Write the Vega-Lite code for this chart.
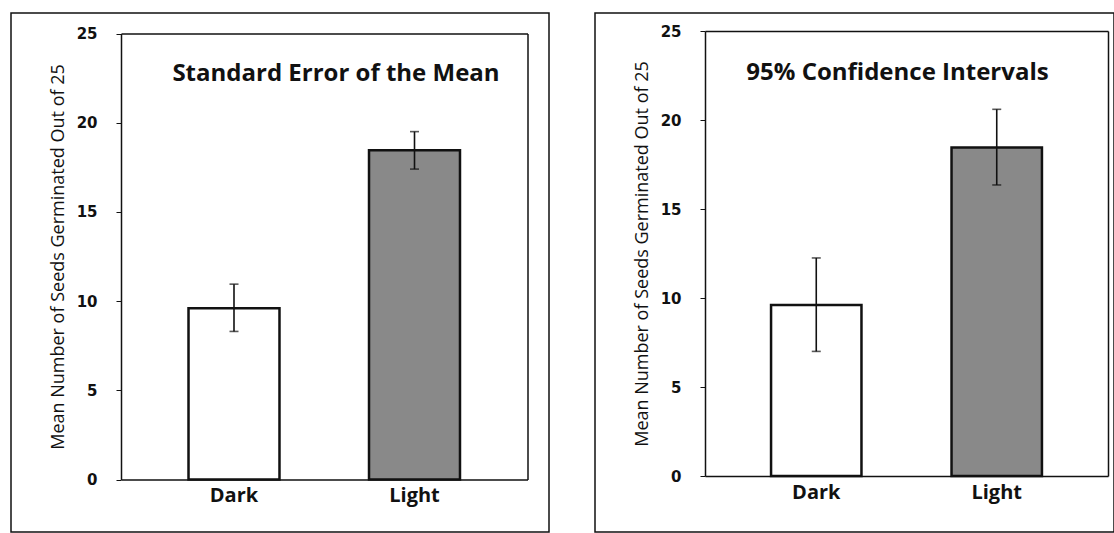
{
  "$schema": "https://vega.github.io/schema/vega-lite/v6.json",
  "background": "white",
  "padding": {"left": 10, "top": 12, "right": 0, "bottom": 0},
  "autosize": {"type": "pad"},
  "bounds": "flush",
  "spacing": 46,
  "config": {
    "view": {"stroke": "#111", "strokeWidth": 1.5},
    "axis": {
      "domainColor": "#111", "domainWidth": 1.5, "grid": false,
      "tickColor": "#111", "labelColor": "#111", "titleColor": "#111"
    }
  },
  "hconcat": [
    {
      "width": 538, "height": 519,
      "data": {"values": [
        {"condition": "Dark", "mean": 9.6, "lo": 8.3, "hi": 10.95},
        {"condition": "Light", "mean": 18.45, "lo": 17.4, "hi": 19.5}
      ]},
      "title": {"text": "Standard Error of the Mean", "anchor": "middle", "frame": "group", "offset": -92, "dx": 56, "baseline": "alphabetic", "font": "Open Sans", "fontSize": 24, "fontWeight": "bold", "color": "#111"},
      "resolve": {"axis": {"x": "independent", "y": "independent"}},
      "layer": [
        {
          "mark": {"type": "bar", "stroke": "#111", "strokeWidth": 2.5},
          "encoding": {
            "x": {"field": "condition", "type": "nominal", "sort": ["Dark", "Light"],
              "scale": {"range": [110, 516.5], "paddingInner": 0.496, "paddingOuter": 0.374},
              "axis": {"orient": "bottom", "offset": -52.5, "title": null, "labelAngle": 0, "ticks": false, "tickSize": 0, "labelPadding": 6, "labelFont": "Open Sans", "labelFontWeight": "bold", "labelFontSize": 20}},
            "y": {"field": "mean", "type": "quantitative",
              "scale": {"domain": [0, 25], "range": [466.5, 20.5], "nice": false},
              "axis": {"orient": "left", "offset": -110, "values": [0, 5, 10, 15, 20, 25], "tickSize": 5, "labelPadding": 19, "labelFont": "DejaVu Sans", "labelFontWeight": "bold", "labelFontSize": 15, "title": "Mean Number of Seeds Germinated Out of 25", "titleFont": "Open Sans", "titleFontSize": 18, "titleFontWeight": "normal", "titlePadding": 9}},
            "fill": {"field": "condition", "type": "nominal", "scale": {"domain": ["Dark", "Light"], "range": ["#ffffff", "#898989"]}, "legend": null}
          }
        },
        {
          "mark": {"type": "rule", "strokeWidth": 1.6, "color": "#111"},
          "encoding": {
            "x": {"field": "condition", "type": "nominal", "sort": ["Dark", "Light"], "axis": {"orient": "top", "offset": -20.5, "labels": false, "ticks": false, "title": null}},
            "y": {"field": "lo", "type": "quantitative", "axis": {"orient": "right", "offset": -21.5, "labels": false, "ticks": false, "title": null}},
            "y2": {"field": "hi"}
          }
        },
        {
          "mark": {"type": "tick", "thickness": 1.6, "size": 9, "color": "#111"},
          "encoding": {
            "x": {"field": "condition", "type": "nominal", "sort": ["Dark", "Light"], "axis": null},
            "y": {"field": "lo", "type": "quantitative", "axis": null}
          }
        },
        {
          "mark": {"type": "tick", "thickness": 1.6, "size": 9, "color": "#111"},
          "encoding": {
            "x": {"field": "condition", "type": "nominal", "sort": ["Dark", "Light"], "axis": null},
            "y": {"field": "hi", "type": "quantitative", "axis": null}
          }
        }
      ]
    },
    {
      "width": 519, "height": 519,
      "data": {"values": [
        {"condition": "Dark", "mean": 9.6, "lo": 7.0, "hi": 12.25},
        {"condition": "Light", "mean": 18.45, "lo": 16.35, "hi": 20.6}
      ]},
      "title": {"text": "95% Confidence Intervals", "anchor": "middle", "frame": "group", "offset": -91, "dx": 43, "baseline": "alphabetic", "font": "Open Sans", "fontSize": 24, "fontWeight": "bold", "color": "#111"},
      "resolve": {"axis": {"x": "independent", "y": "independent"}},
      "layer": [
        {
          "mark": {"type": "bar", "stroke": "#111", "strokeWidth": 2.5},
          "encoding": {
            "x": {"field": "condition", "type": "nominal", "sort": ["Dark", "Light"],
              "scale": {"range": [110, 513], "paddingInner": 0.499, "paddingOuter": 0.366},
              "axis": {"orient": "bottom", "offset": -56, "title": null, "labelAngle": 0, "ticks": false, "tickSize": 0, "labelPadding": 6, "labelFont": "Open Sans", "labelFontWeight": "bold", "labelFontSize": 20}},
            "y": {"field": "mean", "type": "quantitative",
              "scale": {"domain": [0, 25], "range": [463, 18], "nice": false},
              "axis": {"orient": "left", "offset": -110, "values": [0, 5, 10, 15, 20, 25], "tickSize": 5, "labelPadding": 19, "labelFont": "DejaVu Sans", "labelFontWeight": "bold", "labelFontSize": 15, "title": "Mean Number of Seeds Germinated Out of 25", "titleFont": "Open Sans", "titleFontSize": 18, "titleFontWeight": "normal", "titlePadding": 9}},
            "fill": {"field": "condition", "type": "nominal", "scale": {"domain": ["Dark", "Light"], "range": ["#ffffff", "#898989"]}, "legend": null}
          }
        },
        {
          "mark": {"type": "rule", "strokeWidth": 1.6, "color": "#111"},
          "encoding": {
            "x": {"field": "condition", "type": "nominal", "sort": ["Dark", "Light"], "axis": {"orient": "top", "offset": -18, "labels": false, "ticks": false, "title": null}},
            "y": {"field": "lo", "type": "quantitative", "axis": {"orient": "right", "offset": -6, "labels": false, "ticks": false, "title": null}},
            "y2": {"field": "hi"}
          }
        },
        {
          "mark": {"type": "tick", "thickness": 1.6, "size": 9, "color": "#111"},
          "encoding": {
            "x": {"field": "condition", "type": "nominal", "sort": ["Dark", "Light"], "axis": null},
            "y": {"field": "lo", "type": "quantitative", "axis": null}
          }
        },
        {
          "mark": {"type": "tick", "thickness": 1.6, "size": 9, "color": "#111"},
          "encoding": {
            "x": {"field": "condition", "type": "nominal", "sort": ["Dark", "Light"], "axis": null},
            "y": {"field": "hi", "type": "quantitative", "axis": null}
          }
        }
      ]
    }
  ]
}
